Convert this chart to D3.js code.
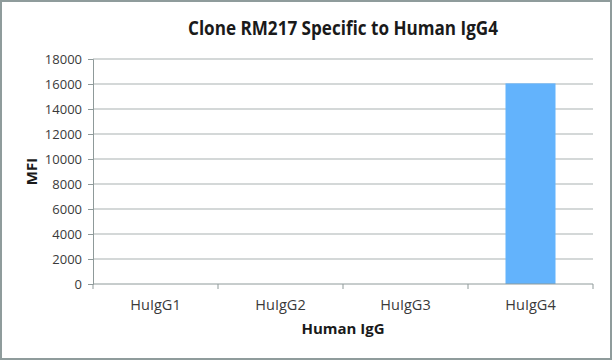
<!DOCTYPE html>
<html>
<head>
<meta charset="utf-8">
<script src="https://cdn.jsdelivr.net/npm/d3@7"></script>
<style>
  body { margin: 0; background: #fff; }
  svg { display: block; }
</style>
</head>
<body>
<div id="chart"></div>
<script>
// Data
const categories = ["HuIgG1", "HuIgG2", "HuIgG3", "HuIgG4"];
const mfiValues = [0, 0, 0, 16050];
const yTicks = [0, 2000, 4000, 6000, 8000, 10000, 12000, 14000, 16000, 18000];

const chartTitle = "Clone RM217 Specific to Human IgG4";
const xTitle = "Human IgG";
const yTitle = "MFI";

const width = 612, height = 360;
const margin = { top: 59, right: 19, bottom: 76, left: 93 };
const plotW = width - margin.left - margin.right;
const plotH = height - margin.top - margin.bottom;

const svg = d3.select("#chart").append("svg")
    .attr("width", width)
    .attr("height", height)
    .style("font-family", "'Open Sans', sans-serif");

// outer frame
svg.append("rect")
    .attr("x", 1).attr("y", 1)
    .attr("width", width - 2).attr("height", height - 2)
    .attr("fill", "#fff")
    .attr("stroke", "#8f9c9c")
    .attr("stroke-width", 2);

const x = d3.scaleBand()
    .domain(categories)
    .range([0, plotW])
    .paddingInner(0.6)
    .paddingOuter(0.3);

// category boundaries for tick marks
const xEdge = d3.scaleLinear().domain([0, categories.length]).range([0, plotW]);

const y = d3.scaleLinear()
    .domain([0, 18000])
    .range([plotH, 0]);

const g = svg.append("g")
    .attr("transform", `translate(${margin.left},${margin.top})`);

// gridlines
g.selectAll(".grid")
    .data(yTicks.filter(d => d > 0))
    .enter().append("line")
    .attr("x1", 0).attr("x2", plotW)
    .attr("y1", d => y(d)).attr("y2", d => y(d))
    .attr("stroke", "#a9b1b1")
    .attr("stroke-width", 1);

// bars
g.selectAll(".bar")
    .data(categories.map((c, i) => ({ cat: c, value: mfiValues[i] })))
    .enter().append("rect")
    .attr("class", "bar")
    .attr("x", d => x(d.cat))
    .attr("width", x.bandwidth())
    .attr("y", d => y(d.value))
    .attr("height", d => plotH - y(d.value))
    .attr("fill", "#63b3fc");

// y axis
const yAxis = g.append("g")
    .call(d3.axisLeft(y).tickValues(yTicks).tickSize(5).tickPadding(6).tickFormat(d3.format("d")));
yAxis.select(".domain").attr("stroke", "#8f9a9a");
yAxis.selectAll(".tick line").attr("stroke", "#8f9a9a");
yAxis.selectAll("text")
    .attr("fill", "#3a3a3a")
    .style("font-size", "13px")
    .style("font-family", "'Open Sans', sans-serif");

// x axis
const xAxisG = g.append("g")
    .attr("transform", `translate(0,${plotH})`);
xAxisG.append("line")
    .attr("x1", 0).attr("x2", plotW)
    .attr("stroke", "#8f9a9a");
xAxisG.selectAll(".xtick")
    .data(d3.range(categories.length + 1))
    .enter().append("line")
    .attr("x1", d => xEdge(d)).attr("x2", d => xEdge(d))
    .attr("y1", 0).attr("y2", 5)
    .attr("stroke", "#8f9a9a");
xAxisG.selectAll(".xlabel")
    .data(categories)
    .enter().append("text")
    .attr("x", d => x(d) + x.bandwidth() / 2)
    .attr("y", 26)
    .attr("text-anchor", "middle")
    .attr("fill", "#3a3a3a")
    .style("font-size", "14.5px")
    .text(d => d);

// titles
svg.append("text")
    .attr("x", margin.left + plotW / 2)
    .attr("y", 35)
    .attr("text-anchor", "middle")
    .attr("fill", "#1a1a1a")
    .attr("textLength", 310)
    .attr("lengthAdjust", "spacingAndGlyphs")
    .style("font-size", "19px")
    .style("font-weight", "bold")
    .text(chartTitle);

svg.append("text")
    .attr("x", margin.left + plotW / 2)
    .attr("y", 334)
    .attr("text-anchor", "middle")
    .attr("fill", "#1a1a1a")
    .style("font-size", "15px")
    .style("font-weight", "bold")
    .text(xTitle);

svg.append("text")
    .attr("transform", `translate(37,${margin.top + plotH / 2}) rotate(-90)`)
    .attr("text-anchor", "middle")
    .attr("fill", "#1a1a1a")
    .style("font-size", "15px")
    .style("font-weight", "bold")
    .text(yTitle);
</script>
</body>
</html>
